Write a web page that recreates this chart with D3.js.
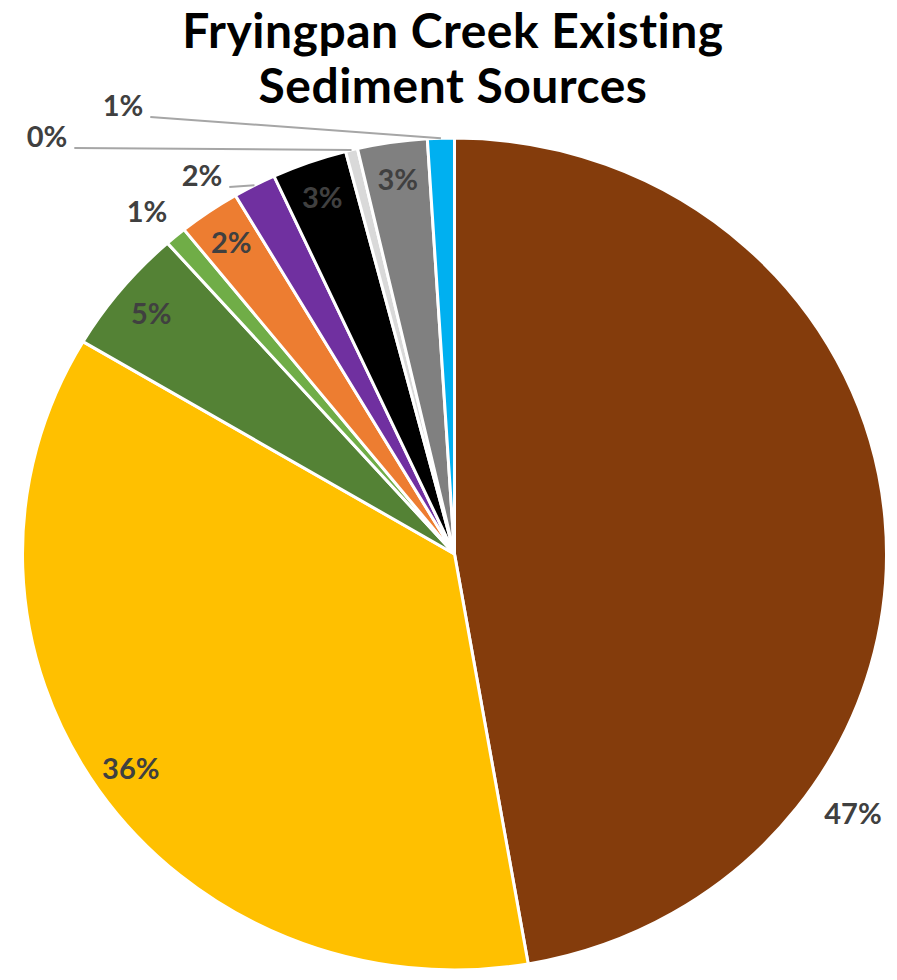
<!DOCTYPE html>
<html>
<head>
<meta charset="utf-8">
<script src="https://cdn.jsdelivr.net/npm/d3@7"></script>
<style>
  body { margin: 0; background: #fff; }
  svg text { font-family: Lato, "Open Sans", sans-serif; font-weight: bold; }
</style>
</head>
<body>
<svg id="chart" width="897" height="980"></svg>
<script>
// chart data
var titleLines = ["Fryingpan Creek Existing", "Sediment Sources"];
var categories = ["Source 1", "Source 2", "Source 3", "Source 4", "Source 5",
                  "Source 6", "Source 7", "Source 8", "Source 9", "Source 10"];
var values = [47.2, 36.2, 4.9, 0.8, 2.3, 1.6, 2.8, 0.45, 2.6, 1.0];
var palette = ["#843C0C", "#FFC000", "#548235", "#70AD47", "#ED7D31",
               "#7030A0", "#000000", "#D9D9D9", "#808080", "#00B0F0"];

// layout
var width = 897, height = 980;
var cx = 454.5, cy = 554;
var R = 432;            // horizontal radius
var ky = 416 / 432;     // picture is a bit squashed vertically
var insideR = 0.91 * R;

// labels Excel pushed outside the slices (center of text)
var outsideLabels = {
  "Source 1":  { x: 853, y: 814, leader: false },
  "Source 4":  { x: 147, y: 212, leader: false },
  "Source 6":  { x: 202, y: 176, leader: true },
  "Source 8":  { x: 47,  y: 137, leader: true },
  "Source 10": { x: 123, y: 106, leader: true }
};

var svg = d3.select("#chart");

var data = categories.map(function(c, i){
  return { name: c, value: values[i], color: palette[i] };
});
var total = d3.sum(values);

var pie = d3.pie()
  .sort(null)
  .value(function(d){ return d.value; });

var arc = d3.arc()
  .innerRadius(0)
  .outerRadius(R);

var arcs = pie(data);

function polar(a, r){
  return [cx + r * Math.sin(a), cy - r * ky * Math.cos(a)];
}

// slices
svg.append("g")
  .attr("transform", "translate(" + cx + "," + cy + ") scale(1," + ky + ")")
  .selectAll("path")
  .data(arcs)
  .enter()
  .append("path")
  .attr("d", arc)
  .attr("fill", function(d){ return d.data.color; })
  .attr("stroke", "#fff")
  .attr("stroke-width", 3)
  .attr("vector-effect", "non-scaling-stroke");

// title
svg.append("g")
  .selectAll("text")
  .data(titleLines)
  .enter()
  .append("text")
  .attr("x", 453)
  .attr("y", function(d, i){ return 48 + i * 55; })
  .attr("text-anchor", "middle")
  .attr("font-size", 48)
  .attr("letter-spacing", 0.5)
  .attr("fill", "#000")
  .text(function(d){ return d; });

// data labels
var labelG = svg.append("g");
arcs.forEach(function(d){
  var mid = (d.startAngle + d.endAngle) / 2;
  var o = outsideLabels[d.data.name];
  var p = o ? [o.x, o.y] : polar(mid, insideR);
  var t = labelG.append("text")
    .attr("x", p[0])
    .attr("y", p[1])
    .attr("dy", "0.36em")
    .attr("text-anchor", "middle")
    .attr("font-size", 29)
    .attr("fill", "#404040")
    .text(Math.round(d.data.value / total * 100) + "%");

  if(o && o.leader){
    var w = t.node().getComputedTextLength();
    var edge = polar(mid, R);
    labelG.append("line")
      .attr("x1", p[0] + w / 2 + 7)
      .attr("y1", p[1] + 11)
      .attr("x2", edge[0])
      .attr("y2", edge[1])
      .attr("stroke", "#A6A6A6")
      .attr("stroke-width", 2);
  }
});
</script>
</body>
</html>
